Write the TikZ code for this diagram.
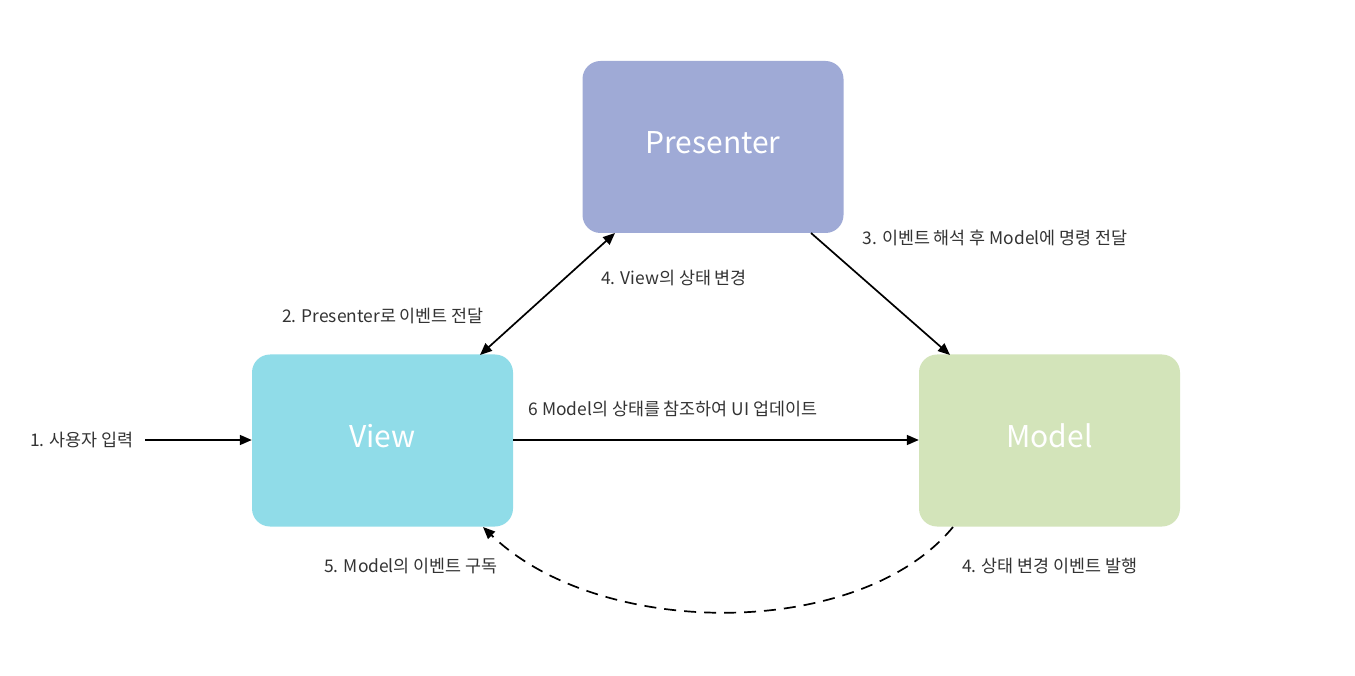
\documentclass[tikz,border=0pt]{standalone}
\usepackage{fontspec}
\setmainfont{Noto Sans CJK KR}
\usetikzlibrary{arrows.meta}
\definecolor{presc}{HTML}{9FAAD6}
\definecolor{viewc}{HTML}{90DCE8}
\definecolor{modelc}{HTML}{D3E4BA}
\definecolor{txtc}{HTML}{333333}
\newcommand{\boxtxt}[1]{\raisebox{9pt}{#1}}
\begin{document}
\begin{tikzpicture}[x=1pt,y=-1pt,
  box/.style={rounded corners=18pt, minimum width=261pt, minimum height=172pt, inner sep=0pt,
    text=white, font=\fontsize{30}{34}\selectfont},
  lbl/.style={text=txtc, font=\fontsize{17.4}{20}\selectfont, inner sep=0pt},
  conn/.style={line width=1.7pt, -{Triangle[length=12pt,width=10pt]}},
  dconn/.style={line width=1.7pt, {Triangle[length=12pt,width=10pt]}-{Triangle[length=12pt,width=10pt]}}]
\useasboundingbox (0,0) rectangle (1355,676);
\fill[white] (0,0) rectangle (1355,676);
\node[box, fill=presc] (P) at (713,147) {\boxtxt{Presenter}};
\node[box, fill=viewc] (V) at (382.5,440.5) {\boxtxt{View}};
\node[box, fill=modelc] (M) at (1049.5,440.5) {\boxtxt{Model}};
\coordinate (in) at (145,440);
\node[lbl] (l1) at (82,440) {1. 사용자 입력};
\draw[conn] (in) -- (V.west |- in);
\draw[conn] (V.east |- in) -- (M.west |- in);
\node[lbl] (l6) at (673,409) {6 Model의 상태를 참조하여 UI 업데이트};
\coordinate (va) at (480,355);
\coordinate (pa) at (615,233);
\draw[dconn] (va) -- (pa);
\node[lbl] (l2) at (383,316) {2. Presenter로 이벤트 전달};
\node[lbl] (l4a) at (674,278) {4. View의 상태 변경};
\coordinate (pb) at (811,233);
\coordinate (mb) at (950,355);
\draw[conn] (pb) -- (mb);
\node[lbl] (l3) at (995,238) {3. 이벤트 해석 후 Model에 명령 전달};
\coordinate (ms) at (953,527);
\coordinate (ve) at (483,527);
\draw[conn, dash pattern=on 12pt off 8pt] (ms) .. controls (860,640) and (600,640) .. (ve);
\node[lbl] (l5) at (411,566) {5. Model의 이벤트 구독};
\node[lbl] (l4b) at (1050,566) {4. 상태 변경 이벤트 발행};
\end{tikzpicture}
\end{document}
